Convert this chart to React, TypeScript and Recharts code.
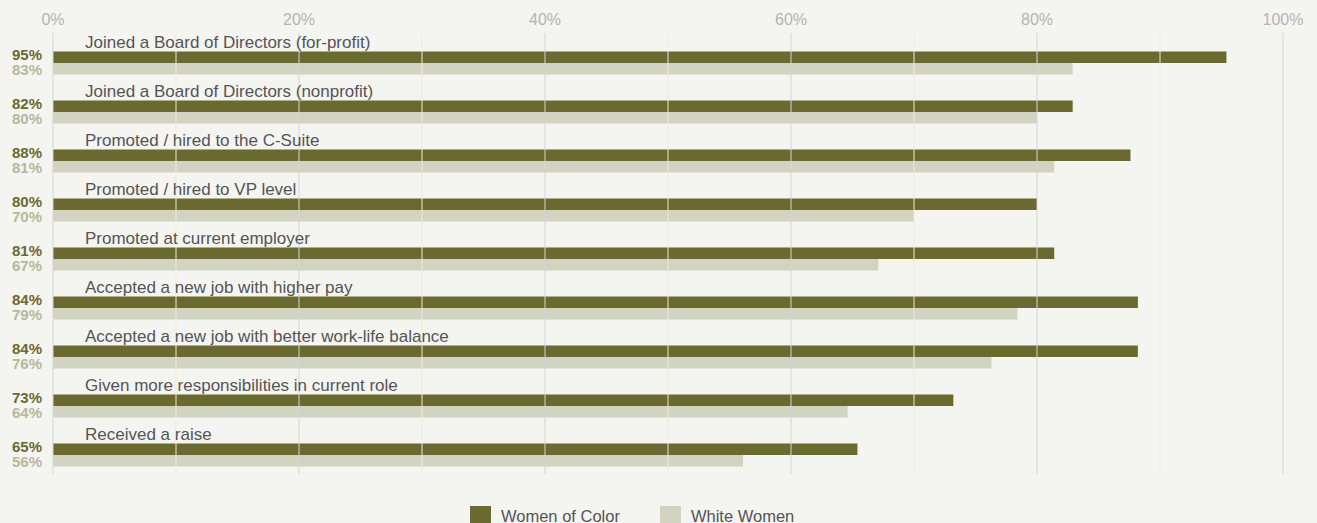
import React from "react";
import { BarChart, Bar, XAxis, YAxis, ReferenceLine } from "recharts";

// ── Palette ──
const DARK = "#6a692f";
const LIGHT = "#d2d3c1";
const LIGHT_TEXT = "#b7b89b";
const LABEL = "#555555";
const BG = "#f4f4f1";
const MAJOR = "#d5d5d5";
const MINOR = "#f1e9d6";
const FONT = "'Liberation Sans', Arial, sans-serif";

// ── Data ──
const categories = [
  "Joined a Board of Directors (for-profit)",
  "Joined a Board of Directors (nonprofit)",
  "Promoted / hired to the C-Suite",
  "Promoted / hired to VP level",
  "Promoted at current employer",
  "Accepted a new job with higher pay",
  "Accepted a new job with better work-life balance",
  "Given more responsibilities in current role",
  "Received a raise",
];
const womenOfColor = [95.4, 82.9, 87.6, 80.0, 81.4, 88.2, 88.2, 73.2, 65.4];
const whiteWomen = [82.9, 80.0, 81.4, 70.0, 67.1, 78.4, 76.3, 64.6, 56.1];
const wocLabels = ["95%", "82%", "88%", "80%", "81%", "84%", "84%", "73%", "65%"];
const wwLabels = ["83%", "80%", "81%", "70%", "67%", "79%", "76%", "64%", "56%"];
const majorTicks = [0, 20, 40, 60, 80, 100];
const minorTicks = [10, 30, 50, 70, 90];

const data = categories.map((name, i) => ({
  name,
  woc: womenOfColor[i],
  ww: whiteWomen[i],
  wocLabel: wocLabels[i],
  wwLabel: wwLabels[i],
}));

function CategoryTick(props: any) {
  const { x, y, payload, index } = props;
  const row = data[index] ?? data.find((d) => d.name === payload.value);
  return (
    <g>
      <text x={x + 43} y={y - 9.5} fill={LABEL} fontSize={17} fontFamily={FONT} textAnchor="start">
        {payload.value}
      </text>
      <text x={x} y={y + 2.5} fill={DARK} fontSize={15} fontWeight={700} fontFamily={FONT} textAnchor="end">
        {row?.wocLabel}
      </text>
      <text x={x} y={y + 17.5} fill={LIGHT_TEXT} fontSize={15} fontWeight={700} fontFamily={FONT} textAnchor="end">
        {row?.wwLabel}
      </text>
    </g>
  );
}

function LegendItem({ color, label }: { color: string; label: string }) {
  return (
    <div style={{ display: "flex", alignItems: "flex-start", marginRight: 40 }}>
      <div style={{ width: 21, height: 17, background: color, marginRight: 10 }} />
      <span style={{ fontSize: 16.5, color: LABEL, fontFamily: FONT, lineHeight: "17px", marginTop: 2 }}>{label}</span>
    </div>
  );
}

export default function App() {
  return (
    <div style={{ position: "absolute", left: 0, top: 0, width: 1317, height: 523, background: BG, overflow: "hidden" }}>
      <BarChart
        width={1317}
        height={523}
        data={data}
        layout="vertical"
        margin={{ top: 3, right: 34, left: 0, bottom: 49 }}
        barGap={0}
        barSize={11.5}
      >
        <XAxis
          type="number"
          orientation="top"
          domain={[0, 100]}
          ticks={majorTicks}
          tickFormatter={(v) => `${v}%`}
          tick={{ fontSize: 16, fill: "#b5b5b5", fontFamily: FONT }}
          axisLine={false}
          tickLine={false}
          height={30}
        />
        <YAxis
          type="category"
          dataKey="name"
          width={53}
          axisLine={false}
          tickLine={false}
          tickMargin={5}
          interval={0}
          tick={<CategoryTick />}
        />
        {minorTicks.map((t) => (
          <ReferenceLine key={`m${t}`} x={t} stroke={MINOR} strokeWidth={1} />
        ))}
        {majorTicks.map((t) => (
          <ReferenceLine key={`M${t}`} x={t} stroke={MAJOR} strokeWidth={1} />
        ))}
        <Bar dataKey={() => 0} legendType="none" fill="transparent" isAnimationActive={false} />
        <Bar dataKey="woc" name="Women of Color" fill={DARK} isAnimationActive={false} />
        <Bar dataKey="ww" name="White Women" fill={LIGHT} isAnimationActive={false} />
      </BarChart>
      <div style={{ position: "absolute", top: 506, left: 470, display: "flex" }}>
        <LegendItem color={DARK} label="Women of Color" />
        <LegendItem color={LIGHT} label="White Women" />
      </div>
    </div>
  );
}
